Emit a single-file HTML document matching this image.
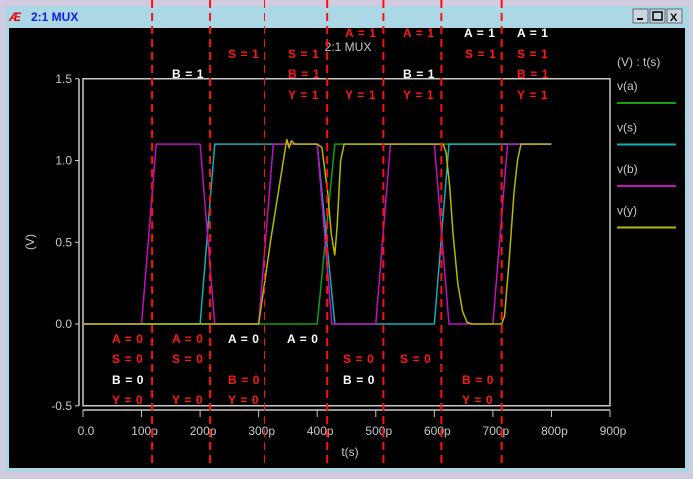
<!DOCTYPE html>
<html><head><meta charset="utf-8"><style>
body{margin:0;background:#d2cade;}
svg{display:block}
.l{font:bold 12px "Liberation Sans",sans-serif;letter-spacing:0.6px}
.t{font:12px "Liberation Sans",sans-serif;fill:#c8c8c8}
</style></head><body>
<svg id="c" width="693" height="479">
<rect x="0" y="0" width="693" height="479" fill="#d2cade"/>
<rect x="5" y="6" width="684" height="466" fill="#acd8e6"/>
<rect x="9" y="28" width="676" height="440" fill="#000"/>
<text x="9" y="21" style="font:italic bold 12px 'Liberation Sans',sans-serif" fill="#e00">Æ</text>
<text x="31" y="21" style="font:bold 12px 'Liberation Sans',sans-serif" fill="#1020e0">2:1 MUX</text>
<g><rect x="633" y="9" width="15" height="14" fill="#c8d8dc" stroke="#667"/><rect x="637" y="18" width="6" height="2" fill="#000"/></g>
<g><rect x="650" y="9" width="15" height="14" fill="#c8d8dc" stroke="#667"/><rect x="653" y="12" width="9" height="8" fill="none" stroke="#000" stroke-width="1.5"/></g>
<g><rect x="667" y="9" width="15" height="14" fill="#c8d8dc" stroke="#667"/><text x="670" y="21" style="font:bold 11px 'Liberation Sans',sans-serif">X</text></g>
<g id="axes"></g>
<g id="series"></g>
<g id="cursors"></g>
<g id="labels"></g>
</svg>
<script>
const xTicks=[0,100,200,300,400,500,600,700,800,900];
const xTickLabels=["0.0","100p","200p","300p","400p","500p","600p","700p","800p","900p"];
const yTicks=[-0.5,0,0.5,1.0,1.5];
const yTickLabels=["-0.5","0.0","0.5","1.0","1.5"];
const aT=[0,400,430,800];
const aV=[0,0,1.1,1.1];
const sT=[0,200,225,400,430,600,625,800];
const sV=[0,0,1.1,1.1,0,0,1.1,1.1];
const bT=[0,100,125,200,225,300,325,400,425,500,525,600,625,700,725,800];
const bV=[0,0,1.1,1.1,0,0,1.1,1.1,0,0,1.1,1.1,0,0,1.1,1.1];
const yT=[0,300,320,340,348,352,356,362,370,400,408,418,424,430,434,440,446,450,615,620,626,632,640,648,656,664,715,720,728,736,742,748,800];
const yV=[0,0,0.5,0.95,1.13,1.08,1.12,1.1,1.1,1.1,1.08,0.8,0.55,0.42,0.6,1.0,1.1,1.1,1.1,1.05,0.85,0.55,0.25,0.08,0.01,0,0,0.05,0.4,0.8,1.0,1.1,1.1];
const cursorTimes=[118,217,310,417,513,612,715];
const NS="http://www.w3.org/2000/svg";
const X=t=>83+t*(610-83)/900;
const Y=v=>324-v*163.5;
function mk(tag,at,par){const e=document.createElementNS(NS,tag);for(const k in at)e.setAttribute(k,at[k]);document.getElementById(par).appendChild(e);return e;}
let e=mk('rect',{x:X(0),y:Y(1.5),width:X(900)-X(0),height:Y(-0.5)-Y(1.5),fill:'none',stroke:'#c8c8c8','stroke-width':1.5},'axes');


e=mk('line',{x1:79,y1:Y(1.5),x2:79,y2:Y(-0.5),stroke:'#c8c8c8','stroke-width':1.5},'axes');


e=mk('line',{x1:X(0),y1:410,x2:X(900),y2:410,stroke:'#c8c8c8','stroke-width':1.5},'axes');


yTicks.forEach((v,i)=>{
 let l=mk('line',{x1:75,y1:Y(v),x2:79,y2:Y(v),stroke:'#c8c8c8'},'axes');
 
 
 let t=mk('text',{x:72,y:Y(v)+4,'text-anchor':'end',class:'t'},'axes');t.textContent=yTickLabels[i];
 
 
});
xTicks.forEach((v,i)=>{
 let l=mk('line',{x1:X(v),y1:410,x2:X(v),y2:417,stroke:'#c8c8c8'},'axes');
 
 
 let t=mk('text',{x:X(v)+3,y:435,'text-anchor':'middle',class:'t'},'axes');t.textContent=xTickLabels[i];
 
 
});
e=mk('text',{x:350,y:456,'text-anchor':'middle',class:'t'},'axes');e.textContent='t(s)';


e=mk('text',{x:34,y:242,'text-anchor':'middle',class:'t',transform:'rotate(-90 34 242)'},'axes');e.textContent='(V)';


e=mk('text',{x:348,y:51,'text-anchor':'middle',class:'t'},'axes');e.textContent='2:1 MUX';


const ser=[['a',aT,aV,'#10a010'],['s',sT,sV,'#10b0b8'],['b',bT,bV,'#c010c0'],['y',yT,yV,'#b8b800']];
ser.forEach(([n,T,V,c])=>{
 let p=mk('polyline',{points:T.map((t,i)=>X(t)+','+Y(V[i])).join(' '),fill:'none',stroke:c,'stroke-width':1.5},'series');
 
 
});
mk('text',{x:617,y:66,class:'t'},'labels').textContent='(V) : t(s)';
ser.forEach(([n,T,V,c],i)=>{
 let yy=90+i*41.5;
 let t=mk('text',{x:617,y:yy,class:'t'},'labels');t.textContent='v('+n+')';
 
 
 let l=mk('line',{x1:617,y1:yy+13,x2:676,y2:yy+13,stroke:c,'stroke-width':2},'labels');
 
 
});
cursorTimes.forEach((t,i)=>{
 let l=mk('line',{x1:X(t),y1:0,x2:X(t),y2:466,stroke:'#ff1010','stroke-width':i==2?1:2,'stroke-dasharray':'8,5'},'cursors');
 
 
});
const R='#ff1818',W='#ffffff';
const labs=[
[345,37,'A = 1',R],[403,37,'A = 1',R],[464,37,'A = 1',W],[517,37,'A = 1',W],
[228,58,'S = 1',R],[288,58,'S = 1',R],[465,58,'S = 1',R],[517,58,'S = 1',R],
[172,78,'B = 1',W],[288,78,'B = 1',R],[403,78,'B = 1',W],[517,78,'B = 1',R],
[288,99,'Y = 1',R],[345,99,'Y = 1',R],[403,99,'Y = 1',R],[517,99,'Y = 1',R],
[112,343,'A = 0',R],[172,343,'A = 0',R],[228,343,'A = 0',W],[287,343,'A = 0',W],
[112,363,'S = 0',R],[172,363,'S = 0',R],[343,363,'S = 0',R],[400,363,'S = 0',R],
[112,384,'B = 0',W],[228,384,'B = 0',R],[343,384,'B = 0',W],[462,384,'B = 0',R],
[112,404,'Y = 0',R],[172,404,'Y = 0',R],[228,404,'Y = 0',R],[462,404,'Y = 0',R]];
labs.forEach(([x,y,s,c])=>{
 let t=mk('text',{x:x,y:y,class:'l',fill:c},'labels');t.textContent=s;
 
 
});
</script>
</body></html>
